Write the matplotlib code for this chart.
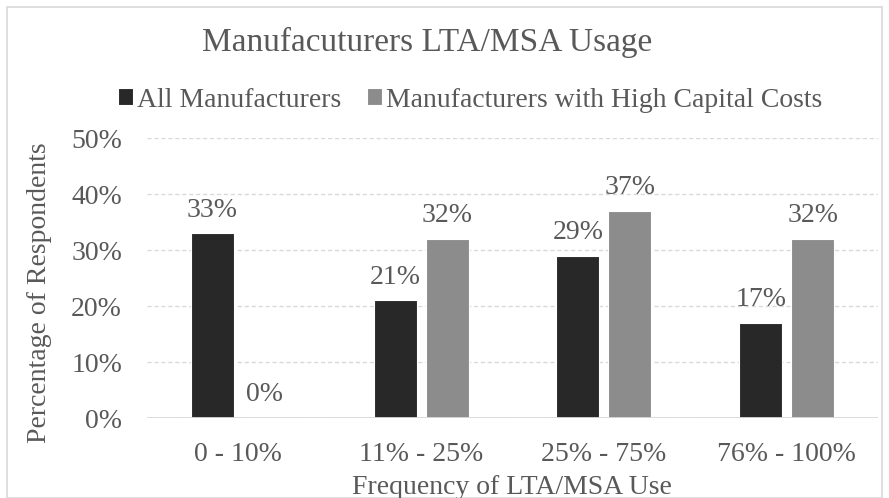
import numpy as np
import matplotlib.pyplot as plt
from matplotlib.patches import Rectangle

categorias = ['0 - 10%', '11% - 25%', '25% - 75%', '76% - 100%']
todos = [33, 21, 29, 17]
alto_capital = [0, 32, 37, 32]
series = ['All Manufacturers', 'Manufacturers with High Capital Costs']

plt.rcParams['font.family'] = ['Liberation Serif', 'DejaVu Serif']
gris_texto = '#595959'
tam = 20

fig = plt.figure(figsize=(8.89, 4.98), dpi=100)
# ejes: x 147..878 px, y 138..418 px
ax = fig.add_axes([147 / 889, 1 - 418 / 498, 731 / 889, 280 / 498])

x = np.arange(len(categorias))
ancho = 0.235
desp = 0.142
b1 = ax.bar(x - desp, np.array(todos) / 100, ancho, color='#282828',
            edgecolor='white', linewidth=0.8, label=series[0], zorder=3)
b2 = ax.bar(x + desp, np.array(alto_capital) / 100, ancho, color='#8c8c8c',
            edgecolor='white', linewidth=0.8, label=series[1], zorder=3)

# etiquetas de valor encima de cada barra
for barras, vals in ((b1, todos), (b2, alto_capital)):
    for b, v in zip(barras, vals):
        ax.annotate(f'{v}%', (b.get_x() + b.get_width() / 2, v / 100),
                    xytext=(0, 12), textcoords='offset points',
                    ha='center', va='baseline', fontsize=tam, color=gris_texto)

ax.set_xlim(-0.5, len(categorias) - 0.5)
ax.set_ylim(0, 0.5)
ticks = np.arange(0, 0.51, 0.1)
ax.set_yticks(ticks)
ax.set_yticklabels([f'{int(round(t * 100))}%' for t in ticks])
ax.set_xticks(x)
ax.set_xticklabels(categorias)
ax.tick_params(length=0, labelsize=tam, labelcolor=gris_texto)
ax.tick_params(axis='x', pad=17)
ax.tick_params(axis='y', pad=18)

ax.grid(axis='y', linestyle=(0, (3, 2)), color='#d9d9d9', linewidth=1, zorder=0)
for s in ax.spines.values():
    s.set_visible(False)
ax.axhline(0, color='#d9d9d9', linewidth=1.3, zorder=4)

fig.text(40 / 889, 1 - 293 / 498, 'Percentage of Respondents', rotation=90,
         ha='center', va='center', fontsize=tam, color=gris_texto)
fig.text(512 / 889, 1 - 487 / 498, 'Frequency of LTA/MSA Use',
         ha='center', va='center', fontsize=tam, color=gris_texto)

fig.text(427 / 889, 1 - 42 / 498, 'Manufacuturers LTA/MSA Usage', ha='center', va='center',
         fontsize=24, color=gris_texto)
fig.legend(handles=[b1, b2], loc='center', bbox_to_anchor=(470 / 889, 1 - 100 / 498), ncol=2,
           frameon=False, fontsize=tam, handlelength=0.55, handleheight=0.55,
           handletextpad=0.15, columnspacing=0.9, labelcolor=gris_texto,
           borderpad=0, borderaxespad=0)

# marco gris alrededor del gráfico
fig.patches.append(Rectangle((7 / 889, 0.0), 1 - 14 / 889, 1 - 7 / 498, transform=fig.transFigure,
                             fill=False, edgecolor='#d9d9d9', linewidth=1.2))

plt.savefig('out.png', dpi=100)
